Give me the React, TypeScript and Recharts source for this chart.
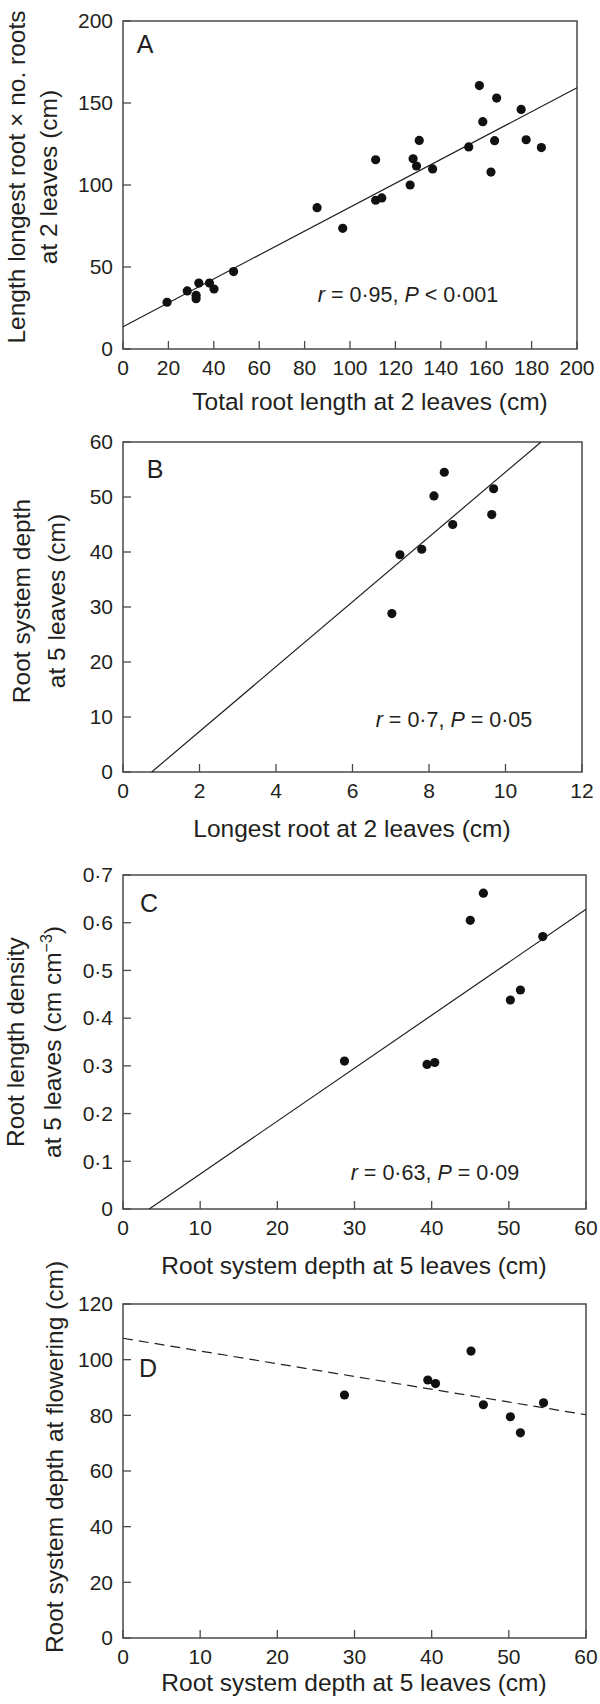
import { ScatterChart, Scatter, XAxis, YAxis, ReferenceLine, ReferenceArea } from "recharts"

const FONT = '"Liberation Sans", Arial, Helvetica, sans-serif'
const INK = "#231f20"
const FRAME = "#4a4a4c"
const W = 600

// A: total root length vs longest root x no. roots, both at 2 leaves
const totalRootLen2 = [19.4, 28.3, 32.2, 32.2, 33.4, 38.1, 40.1, 48.7, 85.5, 96.8, 111.3, 111.3, 114, 126.5, 127.8, 129.3, 130.5, 136.4, 152.3, 157, 158.5, 162.1, 163.7, 164.6, 175.4, 177.6, 184.3]
const longestTimesRoots2 = [28.5, 35.4, 32.7, 30.7, 40.2, 40.2, 36.6, 47.2, 86.2, 73.6, 115.4, 90.7, 92.1, 100, 116, 111.6, 127.2, 109.8, 123.2, 160.6, 138.6, 107.9, 127, 153, 146.1, 127.6, 122.8]
const fitA = [{ x: 0, y: 13.6 }, { x: 200, y: 159.3 }]
const xTicksA = [0, 20, 40, 60, 80, 100, 120, 140, 160, 180, 200]
const yTicksA = [0, 50, 100, 150, 200]

// B: longest root at 2 leaves vs root depth at 5 leaves
const longestRoot2 = [7.03, 7.24, 7.81, 8.13, 8.4, 8.62, 9.64, 9.69]
const depth5B = [28.8, 39.5, 40.5, 50.2, 54.5, 45.0, 46.8, 51.5]
const fitB = [{ x: 0.75, y: 0 }, { x: 10.93, y: 60 }]
const xTicksB = [0, 2, 4, 6, 8, 10, 12]
const yTicksB = [0, 10, 20, 30, 40, 50, 60]

// C: root depth at 5 leaves vs root length density
const depth5C = [28.7, 39.4, 40.4, 45.0, 46.7, 50.2, 51.5, 54.4]
const rld5 = [0.31, 0.303, 0.307, 0.605, 0.662, 0.438, 0.459, 0.571]
const fitC = [{ x: 3.4, y: 0 }, { x: 60, y: 0.628 }]
const xTicksC = [0, 10, 20, 30, 40, 50, 60]
const yTicksC = [0, 0.1, 0.2, 0.3, 0.4, 0.5, 0.6, 0.7]

// D: root depth at 5 leaves vs root depth at flowering
const depth5D = [28.7, 39.5, 40.5, 45.1, 46.7, 50.2, 51.5, 54.5]
const depthFlower = [87.3, 92.7, 91.4, 103.1, 83.8, 79.5, 73.7, 84.5]
const fitD = [{ x: 0, y: 107.7 }, { x: 60, y: 80.2 }]
const xTicksD = [0, 10, 20, 30, 40, 50, 60]
const yTicksD = [0, 20, 40, 60, 80, 100, 120]

const pairs = (xs: number[], ys: number[]) => xs.map((x, i) => ({ x, y: ys[i] }))
const dotFmt = (v: number) => String(Math.round(v * 10) / 10).replace(".", "·")

function XTick(props: any) {
  const { x, y, payload } = props
  return (
    <g>
      <line x1={x} x2={x} y1={y} y2={y - 8} stroke={FRAME} strokeWidth={1.3} />
      <text x={x} y={y + 19} dy="0.35em" textAnchor="middle" fontSize={21} fill={INK} fontFamily={FONT}>
        {payload.value}
      </text>
    </g>
  )
}

function YTick(props: any) {
  const { x, y, payload, fmt } = props
  return (
    <g>
      <line x1={x} x2={x + 8} y1={y} y2={y} stroke={FRAME} strokeWidth={1.3} />
      <text x={x - 10} y={y} dy="0.35em" textAnchor="end" fontSize={21} fill={INK} fontFamily={FONT}>
        {fmt ? fmt(payload.value) : payload.value}
      </text>
    </g>
  )
}

type Plot = { top: number; bottom: number; left: number; right: number }

function Panel(props: {
  top: number
  height: number
  plot: Plot
  xTicks: number[]
  yTicks: number[]
  yFmt?: (v: number) => string
  points: { x: number; y: number }[]
  fit: { x: number; y: number }[]
  dashed?: boolean
  letter: { text: string; x: number; y: number }
  xLabel: { text: string; x: number; y: number }
  yLabel: { lines: React.ReactNode[]; xs: number[]; y: number }
  note?: { node: React.ReactNode; x: number; y: number }
}) {
  const { top, height, plot, xTicks, yTicks, yFmt, points, fit, dashed, letter, xLabel, yLabel, note } = props
  const xd = [xTicks[0], xTicks[xTicks.length - 1]]
  const yd = [yTicks[0], yTicks[yTicks.length - 1]]
  return (
    <div style={{ position: "absolute", left: 0, top, width: W, height }}>
      <ScatterChart width={W} height={height} margin={{ top: plot.top, right: W - plot.right, left: 0, bottom: 0 }}>
        <XAxis
          type="number"
          dataKey="x"
          domain={xd}
          ticks={xTicks}
          interval={0}
          height={height - plot.bottom}
          axisLine={false}
          tickLine={false}
          tickSize={0}
          tickMargin={0}
          tick={(p: any) => <XTick {...p} />}
          allowDataOverflow
        />
        <YAxis
          type="number"
          dataKey="y"
          domain={yd}
          ticks={yTicks}
          interval={0}
          width={plot.left}
          axisLine={false}
          tickLine={false}
          tickSize={0}
          tickMargin={0}
          tick={(p: any) => <YTick {...p} fmt={yFmt} />}
          allowDataOverflow
        />
        <ReferenceArea x1={xd[0]} x2={xd[1]} y1={yd[0]} y2={yd[1]} fill="none" stroke={FRAME} strokeWidth={1.5} ifOverflow="visible" />
        <ReferenceLine
          segment={fit}
          stroke={INK}
          strokeWidth={1.2}
          strokeDasharray={dashed ? "10 6" : undefined}
          ifOverflow="visible"
        />
        <Scatter
          data={points}
          isAnimationActive={false}
          shape={(p: any) => <circle cx={p.cx} cy={p.cy} r={4.6} fill="#111" />}
        />
      </ScatterChart>
      <svg
        width={W}
        height={height}
        style={{ position: "absolute", left: 0, top: 0, pointerEvents: "none", overflow: "visible" }}
        fontFamily={FONT}
        fill={INK}
      >
        <text x={letter.x} y={letter.y} dy="0.35em" textAnchor="middle" fontSize={25}>
          {letter.text}
        </text>
        <text x={xLabel.x} y={xLabel.y} dy="0.35em" textAnchor="middle" fontSize={24.5}>
          {xLabel.text}
        </text>
        {yLabel.lines.map((line, i) => (
          <text
            key={i}
            x={yLabel.xs[i]}
            y={yLabel.y}
            dy="0.35em"
            textAnchor="middle"
            fontSize={24.5}
            transform={`rotate(-90 ${yLabel.xs[i]} ${yLabel.y})`}
          >
            {line}
          </text>
        ))}
        {note && (
          <text x={note.x} y={note.y} dy="0.35em" textAnchor="middle" fontSize={21.5}>
            {note.node}
          </text>
        )}
      </svg>
    </div>
  )
}

const it = (s: string) => <tspan fontStyle="italic">{s}</tspan>

export default function App() {
  return (
    <div style={{ position: "absolute", left: 0, top: 0, width: W, height: 1704, background: "#fff" }}>
      <Panel
        top={0}
        height={420}
        plot={{ top: 21, bottom: 349, left: 123, right: 577 }}
        xTicks={xTicksA}
        yTicks={yTicksA}
        points={pairs(totalRootLen2, longestTimesRoots2)}
        fit={fitA}
        letter={{ text: "A", x: 145, y: 44 }}
        xLabel={{ text: "Total root length at 2 leaves (cm)", x: 370, y: 401 }}
        yLabel={{ lines: ["Length longest root × no. roots", "at 2 leaves (cm)"], xs: [16, 48], y: 177 }}
        note={{ node: <>{it("r")} = 0·95, {it("P")} &lt; 0·001</>, x: 408, y: 294 }}
      />
      <Panel
        top={420}
        height={430}
        plot={{ top: 22, bottom: 352, left: 123, right: 582 }}
        xTicks={xTicksB}
        yTicks={yTicksB}
        points={pairs(longestRoot2, depth5B)}
        fit={fitB}
        letter={{ text: "B", x: 155, y: 49 }}
        xLabel={{ text: "Longest root at 2 leaves (cm)", x: 352, y: 408 }}
        yLabel={{ lines: ["Root system depth", "at 5 leaves (cm)"], xs: [21, 56], y: 181 }}
        note={{ node: <>{it("r")} = 0·7, {it("P")} = 0·05</>, x: 454, y: 299 }}
      />
      <Panel
        top={850}
        height={430}
        plot={{ top: 25, bottom: 359, left: 123, right: 586 }}
        xTicks={xTicksC}
        yTicks={yTicksC}
        yFmt={dotFmt}
        points={pairs(depth5C, rld5)}
        fit={fitC}
        letter={{ text: "C", x: 149, y: 53 }}
        xLabel={{ text: "Root system depth at 5 leaves (cm)", x: 354, y: 415 }}
        yLabel={{
          lines: [
            "Root length density",
            <>
              at 5 leaves (cm cm
              <tspan dy={-9} fontSize={16}>
                −3
              </tspan>
              <tspan dy={9}>)</tspan>
            </>,
          ],
          xs: [15, 52],
          y: 192,
        }}
        note={{ node: <>{it("r")} = 0·63, {it("P")} = 0·09</>, x: 435, y: 322 }}
      />
      <Panel
        top={1280}
        height={424}
        plot={{ top: 24, bottom: 358, left: 123, right: 586 }}
        xTicks={xTicksD}
        yTicks={yTicksD}
        points={pairs(depth5D, depthFlower)}
        fit={fitD}
        dashed
        letter={{ text: "D", x: 148, y: 88 }}
        xLabel={{ text: "Root system depth at 5 leaves (cm)", x: 354, y: 402 }}
        yLabel={{ lines: ["Root system depth at flowering (cm)"], xs: [54], y: 177 }}
      />
    </div>
  )
}
